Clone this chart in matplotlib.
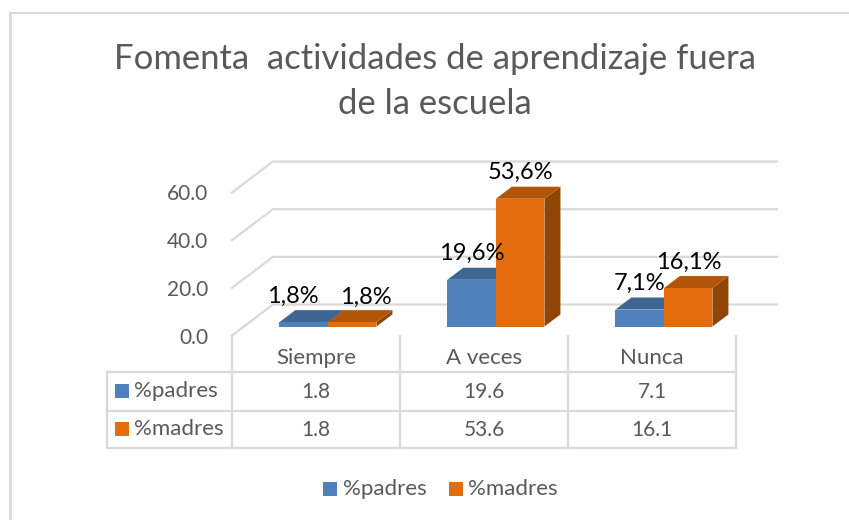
import numpy as np
import matplotlib
matplotlib.use('Agg')
import matplotlib.pyplot as plt
from matplotlib.lines import Line2D
from matplotlib.patches import Rectangle

categories = ['Siempre', 'A veces', 'Nunca']
padres = [1.8, 19.6, 7.1]
madres = [1.8, 53.6, 16.1]
series_names = ['%padres', '%madres']
y_ticks = [0, 20, 40, 60]
title = 'Fomenta  actividades de aprendizaje fuera\nde la escuela'

W, H = 849, 520
GREY = '#595959'
LINE = '#D9D9D9'
colors = [('#4F81BD', '#3F6592', '#2F4C6E'), ('#E46C0A', '#B35508', '#8F4504')]

# oblique depth, in data units
DEPTH_X = 41 / 168
DEPTH_Y = 13.0
BAR_W = 0.289
Z0, Z1 = 0.29, 0.68

# label offsets in pixels from the bar's front top centre
label_off = [[(-11, 26), (14, 25)], [(0, 26), (0, 26)], [(0, 26), (1, 26)]]

plt.rcParams['font.family'] = ['Lato', 'DejaVu Sans']


def fx(x):
    return x / W


def fy(y):
    return 1 - y / H


def fline(xs, ys, lw=1.5):
    fig.add_artist(Line2D([fx(x) for x in xs], [fy(y) for y in ys], color=LINE, lw=lw))


fig = plt.figure(figsize=(W / 100, H / 100), dpi=100)
ax = fig.add_axes([fx(232), fy(335.5), 504 / W, 143 / H])
ax.set_xlim(0, 3)
ax.set_ylim(0, 60)
ax.patch.set_visible(False)
for s in ax.spines.values():
    s.set_visible(False)
ax.set_xticks([])
ax.set_yticks(y_ticks)
ax.set_yticklabels(['%.1f' % t for t in y_ticks], fontsize=15, color=GREY)
ax.tick_params(axis='y', length=0, pad=17)

# chart frame (top and left only show)
fline([9.5, 849], [12.5, 12.5], 1.5)
fline([9.5, 9.5], [12.5, 520], 2)

fig.text(fx(435), fy(59), title.split('\n')[0], ha='center', va='center', fontsize=24.9, color=GREY)
fig.text(fx(435), fy(104), title.split('\n')[1], ha='center', va='center', fontsize=24.9, color=GREY)

# walls
for t in y_ticks:
    ax.plot([0, DEPTH_X, 3 + DEPTH_X], [t, t + DEPTH_Y, t + DEPTH_Y], color=LINE, lw=1.6,
            clip_on=False, zorder=1, solid_joinstyle='miter')

# bars
for i in range(len(categories)):
    for j, vals in enumerate([padres, madres]):
        v = vals[i]
        x0 = i + 0.5 - BAR_W + BAR_W * j
        x1 = x0 + BAR_W
        ox0, oy0 = Z0 * DEPTH_X, Z0 * DEPTH_Y
        ox1, oy1 = Z1 * DEPTH_X, Z1 * DEPTH_Y
        front, top, side = colors[j]
        # side
        ax.fill([x1 + ox0, x1 + ox1, x1 + ox1, x1 + ox0],
                [oy0, oy1, oy1 + v, oy0 + v], color=side, lw=0, clip_on=False, zorder=3)
        # top
        ax.fill([x0 + ox0, x1 + ox0, x1 + ox1, x0 + ox1],
                [oy0 + v, oy0 + v, oy1 + v, oy1 + v], color=top, lw=0, clip_on=False, zorder=3)
        # front
        ax.fill([x0 + ox0, x1 + ox0, x1 + ox0, x0 + ox0],
                [oy0, oy0, oy0 + v, oy0 + v], color=front, lw=0, clip_on=False, zorder=3)
        dx, dy = label_off[i][j]
        ax.annotate(('%.1f%%' % v).replace('.', ','), ((x0 + x1) / 2 + ox0, oy0 + v),
                    xytext=(dx, dy), textcoords='offset pixels', ha='center', va='center',
                    fontsize=17, color='black', zorder=5, annotation_clip=False)

# data table
cols = [232 + 168 * i for i in range(len(categories) + 1)]
rows = [372, 410.5, 448]
for c in cols:
    fline([c, c], [336, rows[-1]], 1.6)
fline([107, 107], [rows[0], rows[-1]], 1.6)
for r in rows:
    fline([107, cols[-1]], [r, r], 1.6)

for i, cat in enumerate(categories):
    cx = (cols[i] + cols[i + 1]) / 2
    fig.text(fx(cx), fy(358), cat, ha='center', va='center', fontsize=16, color=GREY)
    for k, vals in enumerate([padres, madres]):
        fig.text(fx(cx), fy((rows[k] + rows[k + 1]) / 2 + 0.5), '%.1f' % vals[i],
                 ha='center', va='center', fontsize=15, color=GREY)

for k, name in enumerate(series_names):
    cy = (rows[k] + rows[k + 1]) / 2
    fig.add_artist(Rectangle((fx(115), fy(cy + 7)), 14 / W, 14 / H, color=colors[k][0], lw=0,
                             transform=fig.transFigure))
    fig.text(fx(134), fy(cy), name, ha='left', va='center', fontsize=16, color=GREY)

# legend
for lx, tx, k in [(323, 343, 0), (449, 468, 1)]:
    fig.add_artist(Rectangle((fx(lx), fy(496)), 14 / W, 14 / H, color=colors[k][0], lw=0,
                             transform=fig.transFigure))
    fig.text(fx(tx), fy(489), series_names[k], ha='left', va='center', fontsize=16, color=GREY)

fig.savefig('out.png', dpi=100)
